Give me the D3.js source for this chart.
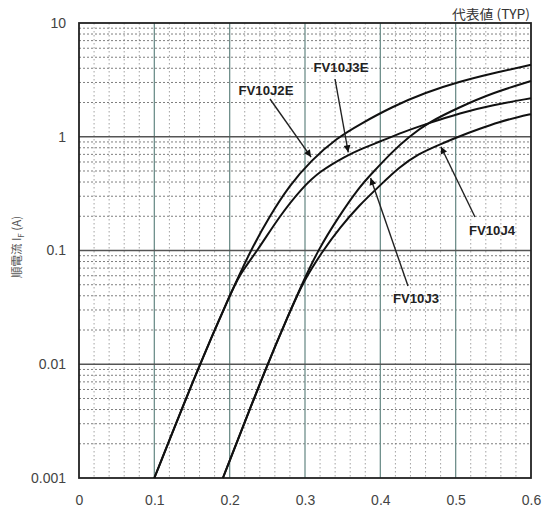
<!DOCTYPE html>
<html>
<head>
<meta charset="utf-8">
<script src="https://cdn.jsdelivr.net/npm/d3@7"></script>
<style>
  html, body { margin: 0; padding: 0; background: #fff; }
  svg { display: block; }
</style>
</head>
<body>
<svg id="chart" width="543" height="509"></svg>
<script>
// ---- data ----
const seriesNames = ["FV10J2E", "FV10J3E", "FV10J3", "FV10J4"];
// forward voltage (V) and forward current (A)
const vJ2E = [0.10, 0.16, 0.20, 0.227, 0.253, 0.279, 0.308, 0.343, 0.372, 0.416, 0.460, 0.505, 0.549, 0.60];
const iJ2E = [0.001, 0.01, 0.040, 0.098, 0.20, 0.37, 0.62, 0.98, 1.28, 1.84, 2.45, 3.05, 3.61, 4.29];
const vJ3E = [0.10, 0.16, 0.20, 0.212, 0.237, 0.266, 0.296, 0.32, 0.355, 0.372, 0.40, 0.43, 0.465, 0.505, 0.549, 0.60];
const iJ3E = [0.001, 0.01, 0.040, 0.060, 0.10, 0.20, 0.355, 0.50, 0.68, 0.77, 0.91, 1.10, 1.32, 1.61, 1.90, 2.18];
const vJ3 = [0.191, 0.25, 0.279, 0.298, 0.317, 0.345, 0.372, 0.388, 0.416, 0.438, 0.465, 0.505, 0.549, 0.60];
const iJ3 = [0.001, 0.01, 0.028, 0.054, 0.10, 0.20, 0.36, 0.47, 0.74, 1.0, 1.35, 1.82, 2.43, 3.09];
const vJ4 = [0.191, 0.25, 0.279, 0.298, 0.324, 0.346, 0.372, 0.399, 0.425, 0.451, 0.478, 0.505, 0.531, 0.558, 0.584, 0.60];
const iJ4 = [0.001, 0.01, 0.028, 0.054, 0.10, 0.158, 0.25, 0.37, 0.54, 0.71, 0.85, 1.01, 1.17, 1.35, 1.50, 1.58];

const xTickValues = [0, 0.1, 0.2, 0.3, 0.4, 0.5, 0.6];
const xTickLabels = ["0", "0.1", "0.2", "0.3", "0.4", "0.5", "0.6"];
const yTickValues = [0.001, 0.01, 0.1, 1, 10];
const yTickLabels = ["0.001", "0.01", "0.1", "1", "10"];
const yTitle = "順電流 I";
const yTitleSub = "F";
const yTitleUnit = " (A)";
const cornerNote = "代表値 (TYP)";

// ---- layout ----
const L = 79, R = 531, T = 23, B = 478;
const svg = d3.select("#chart");
const x = d3.scaleLinear().domain([0, 0.6]).range([L, R]);
const y = d3.scaleLog().domain([0.001, 10]).range([B, T]);

const series = [
  { name: seriesNames[0], v: vJ2E, i: iJ2E },
  { name: seriesNames[1], v: vJ3E, i: iJ3E },
  { name: seriesNames[2], v: vJ3, i: iJ3 },
  { name: seriesNames[3], v: vJ4, i: iJ4 }
];

// ---- grid ----
const grid = svg.append("g");
// minor vertical every 0.02
const minorX = d3.range(0, 0.6001, 0.02).filter(d => Math.abs(d * 10 - Math.round(d * 10)) > 1e-6);
grid.selectAll(".mvx").data(minorX).enter().append("line")
  .attr("x1", d => x(d)).attr("x2", d => x(d)).attr("y1", T).attr("y2", B)
  .attr("stroke", "#8a8a8a").attr("stroke-width", 0.8).attr("stroke-dasharray", "1.5,2.5");
// minor horizontal 2..9 per decade
const minorY = [];
[0.001, 0.01, 0.1, 1].forEach(dec => { for (let k = 2; k <= 9; k++) minorY.push(dec * k); });
grid.selectAll(".mhy").data(minorY).enter().append("line")
  .attr("x1", L).attr("x2", R).attr("y1", d => y(d)).attr("y2", d => y(d))
  .attr("stroke", "#707070").attr("stroke-width", 0.9).attr("stroke-dasharray", "2,2");
// major vertical
grid.selectAll(".Mvx").data(xTickValues.slice(1, -1)).enter().append("line")
  .attr("x1", d => x(d)).attr("x2", d => x(d)).attr("y1", T).attr("y2", B)
  .attr("stroke", "#6f8f8b").attr("stroke-width", 1.3);
// major horizontal
grid.selectAll(".Mhy").data(yTickValues.slice(1, -1)).enter().append("line")
  .attr("x1", L).attr("x2", R).attr("y1", d => y(d)).attr("y2", d => y(d))
  .attr("stroke", "#555").attr("stroke-width", 1.4);

// ---- border ----
svg.append("rect").attr("x", L).attr("y", T).attr("width", R - L).attr("height", B - T)
  .attr("fill", "none").attr("stroke", "#222").attr("stroke-width", 1.8);

// ---- axes ----
const xAxis = d3.axisBottom(x).tickValues(xTickValues).tickSize(0)
  .tickFormat((d, k) => xTickLabels[k]);
const gx = svg.append("g").attr("transform", `translate(0,${B + 14})`).call(xAxis);
gx.select(".domain").remove();
gx.selectAll("text").attr("font-family", "Liberation Sans, Arial, sans-serif")
  .attr("font-size", 14).attr("fill", "#444");

const yAxis = d3.axisLeft(y).tickValues(yTickValues).tickSize(0)
  .tickFormat((d, k) => yTickLabels[k]);
const gy = svg.append("g").attr("transform", `translate(${L - 10},0)`).call(yAxis);
gy.select(".domain").remove();
gy.selectAll("text").attr("font-family", "Liberation Sans, Arial, sans-serif")
  .attr("font-size", 14).attr("fill", "#444");

// y title
const yt = svg.append("text")
  .attr("transform", "translate(21,247) rotate(-90)")
  .attr("text-anchor", "middle")
  .attr("font-family", "Noto Sans CJK JP, sans-serif")
  .attr("font-size", 11.5).attr("fill", "#555");
yt.append("tspan").text(yTitle);
yt.append("tspan").attr("font-size", 8).attr("dy", 3).text(yTitleSub);
yt.append("tspan").attr("dy", -3).text(yTitleUnit);

// corner note
svg.append("text").attr("x", 530).attr("y", 19).attr("text-anchor", "end")
  .attr("font-family", "Noto Sans CJK JP, sans-serif")
  .attr("font-size", 13).attr("fill", "#333")
  .attr("textLength", 78).attr("lengthAdjust", "spacingAndGlyphs")
  .text(cornerNote);

// ---- curves ----
const line = d3.line()
  .x(d => x(d[0])).y(d => y(d[1]))
  .curve(d3.curveBasis);
svg.append("g").selectAll("path").data(series).enter().append("path")
  .attr("d", s => line(s.v.map((v, k) => [v, s.i[k]])))
  .attr("fill", "none").attr("stroke", "#111").attr("stroke-width", 2);

// ---- annotations ----
function currentAt(s, v) {
  for (let k = 0; k < s.v.length - 1; k++) {
    if (v >= s.v[k] && v <= s.v[k + 1]) {
      const t = (v - s.v[k]) / (s.v[k + 1] - s.v[k]);
      return Math.pow(10, Math.log10(s.i[k]) + t * (Math.log10(s.i[k + 1]) - Math.log10(s.i[k])));
    }
  }
  return s.i[s.i.length - 1];
}
const annot = [
  { s: 0, tipV: 0.310, tail: [270, 99], label: [266, 95], w: 55 },
  { s: 1, tipV: 0.358, tail: [335, 79], label: [341, 72], w: 55 },
  { s: 2, tipV: 0.386, tail: [408, 286], label: [416, 303], w: 46 },
  { s: 3, tipV: 0.479, tail: [475, 217], label: [492, 235], w: 46 }
];
const defs = svg.append("defs");
defs.append("marker").attr("id", "ah").attr("viewBox", "0 0 10 10")
  .attr("refX", 10).attr("refY", 5).attr("markerWidth", 9).attr("markerHeight", 7)
  .attr("markerUnits", "userSpaceOnUse").attr("orient", "auto")
  .append("path").attr("d", "M0,0 L10,5 L0,10 Z").attr("fill", "#111");

annot.forEach(a => {
  const s = series[a.s];
  const tx = x(a.tipV), ty = y(currentAt(s, a.tipV));
  const dx = tx - a.tail[0], dy = ty - a.tail[1];
  const len = Math.hypot(dx, dy);
  const ex = tx - dx / len * 2.5, ey = ty - dy / len * 2.5;
  svg.append("line").attr("x1", a.tail[0]).attr("y1", a.tail[1]).attr("x2", ex).attr("y2", ey)
    .attr("stroke", "#222").attr("stroke-width", 1.4).attr("marker-end", "url(#ah)");
  svg.append("text").attr("x", a.label[0]).attr("y", a.label[1]).attr("text-anchor", "middle")
    .attr("font-family", "Liberation Sans Narrow, Liberation Sans, Arial, sans-serif")
    .attr("font-weight", "bold").attr("font-size", 13).attr("fill", "#222")
    .attr("textLength", a.w).attr("lengthAdjust", "spacingAndGlyphs")
    .text(s.name);
});
</script>
</body>
</html>
